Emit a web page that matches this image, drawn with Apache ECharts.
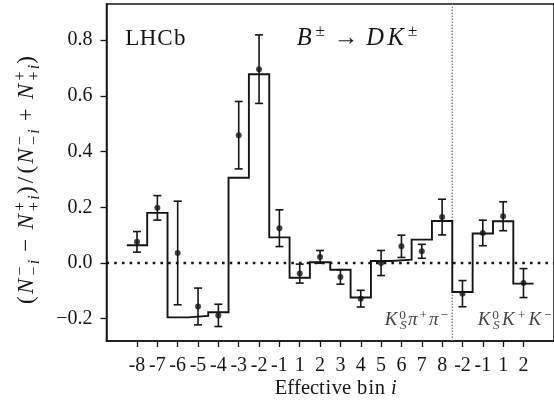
<!DOCTYPE html>
<html>
<head>
<meta charset="utf-8">
<script src="https://cdn.jsdelivr.net/npm/echarts@6/dist/echarts.min.js"></script>
<style>
  html, body { margin: 0; padding: 0; background: #fff; }
  #chart { width: 554px; height: 403px; }
</style>
</head>
<body>
<div id="chart"></div>
<script>
// Effective bins: K0S pi+ pi- (-8..8) followed by K0S K+ K- (-2..2)
const binLabels = ['-8', '-7', '-6', '-5', '-4', '-3', '-2', '-1', '1', '2', '3', '4', '5', '6', '7', '8',
                   '-2', '-1', '1', '2'];
// Measured asymmetry per bin and its uncertainty
const asymmetry = [0.076, 0.198, 0.036, -0.156, -0.188, 0.459, 0.696, 0.125,
                   -0.038, 0.022, -0.050, -0.128, 0.000, 0.060, 0.042, 0.165,
                   -0.110, 0.108, 0.168, -0.072];
const asymmetryErr = [0.037, 0.044, 0.186, 0.066, 0.040, 0.121, 0.123, 0.066,
                      0.034, 0.023, 0.026, 0.030, 0.045, 0.040, 0.025, 0.064,
                      0.047, 0.046, 0.052, 0.052];
// Expected asymmetry from the fit (drawn as a histogram)
const prediction = [0.064, 0.180, -0.195, -0.190, -0.177, 0.306, 0.678, 0.092,
                    -0.053, 0.003, -0.024, -0.124, 0.007, 0.012, 0.084, 0.151,
                    -0.104, 0.106, 0.150, -0.074];
const yTicks = [-0.2, 0.0, 0.2, 0.4, 0.6, 0.8];
const xRange = [-1.5, 20.5];
const yRange = [-0.28, 0.93];
const modeBoundary = 15.5;

const SERIF = '"Liberation Serif", "DejaVu Serif", serif';
const INK = '#151515';

const binIndex = binLabels.map((_, i) => i);
const stepPoints = [];
prediction.forEach((v, i) => { stepPoints.push([i - 0.5, v], [i + 0.5, v]); });
const pointData = asymmetry.map((v, i) => [i, v]);
const errData = asymmetry.map((v, i) => [i, v, asymmetryErr[i]]);

// --- math-style text setting ---
// Glyph advances (in em) of the classic TeX fonts, so formulas keep TeX proportions;
// each glyph is centred inside its advance box.
const ADV = {
  '(': 0.389, ')': 0.389, '/': 0.5, '−': 0.778, '+': 0.778, '±': 0.778, '→': 1.0, '0': 0.5,
  'N': 0.803, 'i': 0.345, 'B': 0.759, 'D': 0.828, 'K': 0.849, 'π': 0.570, 'S': 0.613,
  'L': 0.625, 'H': 0.75, 'C': 0.722, 'b': 0.556
};
const measureCtx = document.createElement('canvas').getContext('2d');
function textWidth(str, size, italic) {
  measureCtx.font = (italic ? 'italic ' : '') + size + 'px ' + SERIF;
  return measureCtx.measureText(str).width;
}
// item forms: {runs:[[text, italic], ...], size, dy} | {stack:[item, item]} | {gap:px}
function layoutMath(seq, fill) {
  const out = [];
  let x = 0;
  const place = (e, x0) => {
    let xx = x0;
    for (const [s, it] of e.runs) {
      for (const ch of s) {
        const w = textWidth(ch, e.size, it);
        const adv = ADV[ch] !== undefined ? ADV[ch] * e.size : w;
        out.push({
          type: 'text', x: xx + (adv - w) / 2, y: -(e.dy || 0) - 0.32 * e.size,
          style: {
            text: ch, fill: fill, align: 'left', verticalAlign: 'middle',
            font: (it ? 'italic ' : '') + e.size + 'px ' + SERIF
          }
        });
        xx += adv;
      }
    }
    return xx - x0;
  };
  for (const e of seq) {
    if (e.gap !== undefined) {
      x += e.gap;
    } else if (e.stack) {
      x += Math.max(...e.stack.map(s => place(s, x)));
    } else {
      x += place(e, x);
    }
  }
  return { children: out, width: x };
}

// y-axis title: (N^-_{-i} - N^+_{+i}) / (N^-_{-i} + N^+_{+i})
const M = 23, S = 16, MED = 0.222 * M;
const up = (s) => ({ runs: [[s, false]], size: M });
const N = { runs: [['N', true]], size: M };
const nScripts = (sgn) => ({
  stack: [
    { runs: [[sgn, false]], size: S, dy: 8.5 },
    { runs: [[sgn, false], ['i', true]], size: S, dy: -5.5 }
  ]
});
const yTitle = layoutMath([
  up('('), N, nScripts('−'), { gap: MED }, up('−'), { gap: MED }, N, nScripts('+'), up(')'),
  up('/'),
  up('('), N, nScripts('−'), { gap: MED }, up('+'), { gap: MED }, N, nScripts('+'), up(')')
], INK);

// decay label: B^± → D K^±
const T = 24.5, TS = 17, THICK = 0.278 * T;
const decay = layoutMath([
  { runs: [['B', true]], size: T },
  { runs: [['±', false]], size: TS, dy: 9 },
  { gap: THICK }, { runs: [['→', false]], size: T }, { gap: THICK },
  { runs: [['DK', true]], size: T },
  { runs: [['±', false]], size: TS, dy: 9 }
], INK);

// final-state labels
const F = 19, FS = 13.3, GREY = '#444';
const kShort = {
  stack: [{ runs: [['0', false]], size: FS, dy: 6.5 }, { runs: [['S', true]], size: FS, dy: -4 }]
};
const sup = (s) => ({ runs: [[s, false]], size: FS, dy: 6.5 });
const pipi = layoutMath([
  { runs: [['K', true]], size: F }, kShort,
  { runs: [['π', true]], size: F }, sup('+'),
  { runs: [['π', true]], size: F }, sup('−')
], GREY);
const kk = layoutMath([
  { runs: [['K', true]], size: F }, kShort,
  { runs: [['K', true]], size: F }, sup('+'),
  { runs: [['K', true]], size: F }, sup('−')
], GREY);

// experiment tag and x-axis title
const tag = layoutMath([{ runs: [['LHCb', false]], size: 23 }], INK);
const xTitle = layoutMath([
  { runs: [['Effective bin ', false], ['i', true]], size: 20.5 }
], INK);

const chart = echarts.init(document.getElementById('chart'), null, { renderer: 'canvas' });

const tickStyle = { color: INK, width: 1.3 };

chart.setOption({
  animation: false,
  backgroundColor: '#fff',
  grid: {
    left: 106.5, right: -11, top: 4, bottom: 62,
    show: true, borderColor: INK, borderWidth: 1.5, backgroundColor: 'transparent'
  },
  xAxis: {
    type: 'value', min: xRange[0], max: xRange[1],
    axisLine: { show: true, onZero: false, lineStyle: { color: INK, width: 1.5 } },
    splitLine: { show: false },
    axisTick: { show: true, customValues: binIndex, length: 6, lineStyle: tickStyle },
    axisLabel: {
      customValues: binIndex, formatter: v => binLabels[Math.round(v)],
      fontFamily: SERIF, fontSize: 20, color: INK, margin: 15
    }
  },
  yAxis: {
    type: 'value', min: yRange[0], max: yRange[1],
    axisLine: { show: true, onZero: false, lineStyle: { color: INK, width: 1.5 } },
    splitLine: { show: false },
    axisTick: { show: true, customValues: yTicks, length: 6, lineStyle: tickStyle },
    axisLabel: {
      customValues: yTicks,
      formatter: v => (v < -1e-9 ? '−' : '') + Math.abs(v).toFixed(1),
      fontFamily: SERIF, fontSize: 20, color: INK, margin: 14
    }
  },
  series: [
    {
      // zero reference
      type: 'line', data: [[xRange[0], 0], [xRange[1], 0]],
      showSymbol: false, silent: true, z: 1,
      lineStyle: { color: INK, width: 2.6, type: [2.6, 5.1], cap: 'butt' }
    },
    {
      // separator between the two final states
      type: 'line', data: [[modeBoundary, yRange[0]], [modeBoundary, yRange[1]]],
      showSymbol: false, silent: true, z: 1,
      lineStyle: { color: '#7a7a7a', width: 1.3, type: [1.6, 1.4], cap: 'butt' }
    },
    {
      // fitted expectation histogram
      type: 'line', data: stepPoints, showSymbol: false, z: 2,
      lineStyle: { color: INK, width: 1.9, join: 'miter', cap: 'butt' }
    },
    {
      // uncertainties
      type: 'custom', data: errData, z: 3,
      renderItem(params, api) {
        const x = api.value(0), y = api.value(1), e = api.value(2);
        const top = api.coord([x, y + e]);
        const bot = api.coord([x, y - e]);
        const hw = 4;
        const st = { stroke: INK, lineWidth: 1.6 };
        return {
          type: 'group',
          children: [
            { type: 'line', shape: { x1: top[0], y1: top[1], x2: bot[0], y2: bot[1] }, style: st },
            { type: 'line', shape: { x1: top[0] - hw, y1: top[1], x2: top[0] + hw, y2: top[1] }, style: st },
            { type: 'line', shape: { x1: bot[0] - hw, y1: bot[1], x2: bot[0] + hw, y2: bot[1] }, style: st }
          ]
        };
      }
    },
    {
      type: 'scatter', data: pointData, symbol: 'circle', symbolSize: 6, z: 4,
      itemStyle: { color: INK }
    }
  ],
  graphic: [
    { type: 'group', x: 125, y: 46.5, children: tag.children },
    { type: 'group', x: 295, y: 46, children: decay.children },
    { type: 'group', x: 383, y: 326, children: pipi.children },
    { type: 'group', x: 476, y: 326, children: kk.children },
    { type: 'group', x: 336 - xTitle.width / 2, y: 395.5, children: xTitle.children },
    {
      type: 'group', x: 27, y: 180, rotation: Math.PI / 2,
      children: yTitle.children.map(c => Object.assign(c, { x: c.x - yTitle.width / 2, y: c.y + 0.32 * M }))
    }
  ]
});
</script>
</body>
</html>
